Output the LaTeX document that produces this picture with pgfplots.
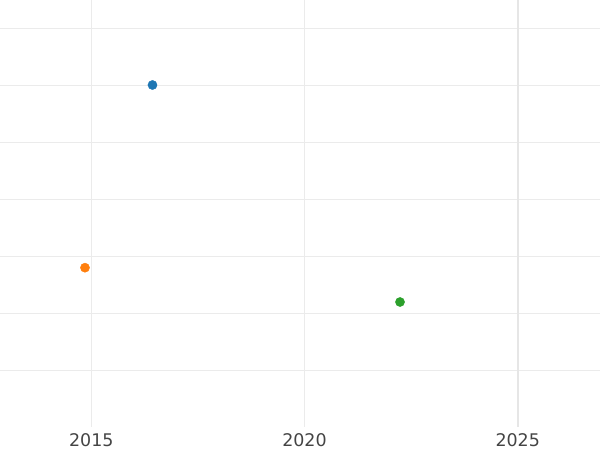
\documentclass[border=0pt]{standalone}
\usepackage{fontspec}
\setmainfont{DejaVu Sans}
\usepackage{pgfplots}
\pgfplotsset{compat=1.18}
\definecolor{tabblue}{HTML}{1F77B4}
\definecolor{taborange}{HTML}{FF7F0E}
\definecolor{tabgreen}{HTML}{2CA02C}
\definecolor{gridc}{HTML}{EBEBEB}
\definecolor{gridd}{HTML}{E6E6E6}
\definecolor{labc}{HTML}{444444}
\begin{document}
\begin{tikzpicture}
\useasboundingbox (0,0) rectangle (600bp,-450bp);
\begin{axis}[
  at={(0,0)}, anchor=north west,
  scale only axis,
  width=600bp, height=427bp,
  xmin=2012.859, xmax=2026.930,
  ymin=0, ymax=7.491,
  axis line style={draw=none},
  xtick={2015,2020}, extra x ticks={2025},
  extra x tick style={grid style={draw=gridd, line width=1.8bp}},
  ytick={1,2,3,4,5,6,7}, yticklabels={},
  major tick length=0pt,
  grid=major,
  grid style={draw=gridc, line width=0.8bp},
  xticklabel style={font=\fontsize{17.5}{20}\selectfont, text=labc, yshift=-3bp},
  /pgf/number format/assume math mode=true,
  /pgf/number format/1000 sep={},
  clip=false,
]
\addplot[only marks, mark=*, mark size=4.6bp, color=tabblue, mark options={draw=none, fill=tabblue}] coordinates {(2016.435,6.0)};
\addplot[only marks, mark=*, mark size=4.6bp, color=taborange, mark options={draw=none, fill=taborange}] coordinates {(2014.852,2.795)};
\addplot[only marks, mark=*, mark size=4.6bp, color=tabgreen, mark options={draw=none, fill=tabgreen}] coordinates {(2022.24,2.193)};
\end{axis}
\end{tikzpicture}
\end{document}
